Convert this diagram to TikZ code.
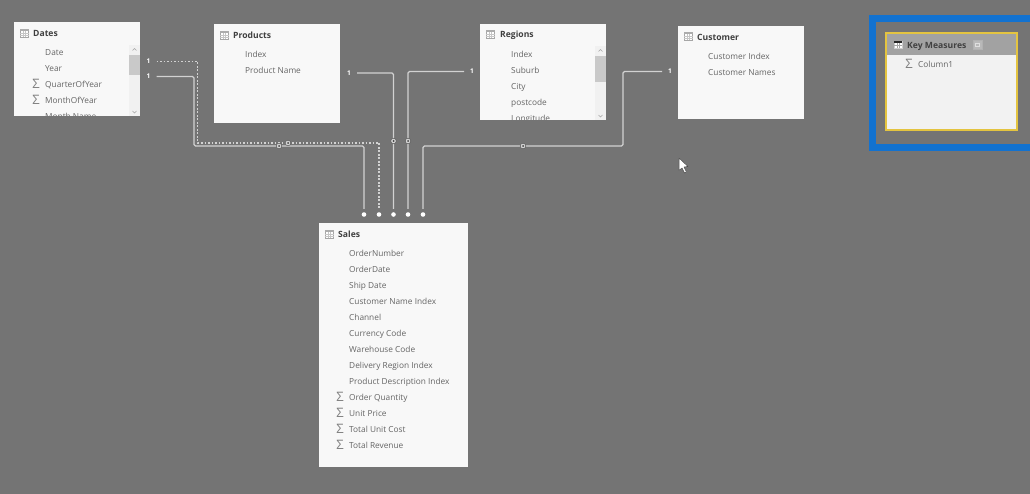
\documentclass[tikz,border=0pt]{standalone}
\usepackage{fontspec}
\setmainfont{Open Sans}
\usetikzlibrary{calc}
\definecolor{bgc}{HTML}{747474}
\definecolor{cardc}{HTML}{F8F8F8}
\definecolor{txtc}{HTML}{646464}
\definecolor{titlec}{HTML}{404040}
\definecolor{linec}{HTML}{D2D2D2}
\definecolor{blueb}{HTML}{1272D0}
\definecolor{yell}{HTML}{E4C440}
\definecolor{hdr}{HTML}{A2A2A2}
\definecolor{scr}{HTML}{F1F1F1}
\definecolor{thumb}{HTML}{C9C9C9}
\tikzset{
  card/.style={fill=cardc,draw=none},
  title/.style={anchor=west,inner sep=0pt,yshift=-1pt,text height=6.5pt,text depth=2pt,text=titlec,font=\fontsize{8.6}{10}\selectfont\bfseries},
  field/.style={anchor=west,inner sep=0pt,yshift=-1pt,text height=6.5pt,text depth=2pt,text=txtc,font=\fontsize{8.3}{10}\selectfont},
  sigma/.style={anchor=center,inner sep=0pt,text=gray,font=\fontsize{13}{13}\selectfont},
  one/.style={inner sep=0pt,text=white,font=\fontsize{6.5}{7}\selectfont\bfseries},
  conn/.style={draw=linec,line width=1.2pt,rounded corners=1.5pt},
  connd/.style={conn,line width=1.1pt,dash pattern=on 1.9pt off 1.6pt,rounded corners=0pt},
  many/.style={circle,fill=white,inner sep=0pt,minimum size=4.6pt},
  mid/.style={circle,fill=linec,draw=black!70,line width=0.4pt,inner sep=0pt,minimum size=5.6pt},
}
% small table glyph: upper-left corner at #1
\newcommand{\tblicon}[1]{%
  \begin{scope}[shift={#1}]
    \draw[draw=gray!70,fill=white,line width=0.5pt] (0,0) rectangle (8.5,8);
    \fill[gray!65] (0,0) rectangle (8.5,2);
    \draw[gray!45,line width=0.3pt] (2.8,2)--(2.8,8) (5.6,2)--(5.6,8) (0,4)--(8.5,4) (0,6)--(8.5,6);
  \end{scope}}
\newcommand{\scrollbar}[5]{% x0,x1,y0,y1,thumb height
  \fill[scr] (#1,#2) rectangle (#3,#4);
  \fill[thumb] (#1,#2+10) rectangle (#3,#2+10+#5);
  \draw[gray!70,line width=0.4pt] (#1+3.5,#2+5.5)--(#1+5.5,#2+3.5)--(#1+7.5,#2+5.5);
  \draw[gray!70,line width=0.4pt] (#1+3.5,#4-5)--(#1+5.5,#4-3)--(#1+7.5,#4-5);
}
\begin{document}
\begin{tikzpicture}[x=1pt,y=-1pt]
\useasboundingbox (0,0) rectangle (1030,494);
\fill[bgc] (0,0) rectangle (1030,494);

% Cards
\fill[card] (14,22) rectangle (140,116);
\fill[card] (214,24) rectangle (340,123);
\fill[card] (480,24) rectangle (606,120);
\fill[card] (678,26) rectangle (804,119);
\fill[card] (319,223) rectangle (468,467);

% Blue highlight and Key Measures
\draw[blueb,line width=7pt] (872.5,18.5) rectangle (1033,147.5);
\fill[cardc!95!gray] (886,33) rectangle (1017,130);
\fill[hdr] (886,33) rectangle (1017,55);
\draw[yell,line width=1.5pt] (886,33) rectangle (1017,130);

% Dates
\tblicon{(20,29)}
\node[title] (dt) at (33,33) {Dates};
\begin{scope}
  \clip (14,22) rectangle (140,116);
  \scrollbar{129}{45}{140}{116}{20}
  \node[field] (d1) at (45,52) {Date};
  \node[field] (d2) at (45,68) {Year};
  \node[field] (d3) at (45,84) {QuarterOfYear};
  \node[field] (d4) at (45,100) {MonthOfYear};
  \node[field] (d5) at (45,116) {Month Name};
  \node[sigma] (ds3) at (36,84) {Σ};
  \node[sigma] (ds4) at (36,100) {Σ};
\end{scope}

% Products
\tblicon{(220,31)}
\node[title] (pt) at (233,35) {Products};
\node[field] (p1) at (245,54) {Index};
\node[field] (p2) at (245,70) {Product Name};

% Regions
\tblicon{(486,30)}
\node[title] (rt) at (500,34.5) {Regions};
\begin{scope}
  \clip (480,24) rectangle (606,120);
  \scrollbar{595}{46}{606}{120}{26}
  \node[field] (r1) at (511,54) {Index};
  \node[field] (r2) at (511,70) {Suburb};
  \node[field] (r3) at (511,86) {City};
  \node[field] (r4) at (511,102) {postcode};
  \node[field] (r5) at (511,118) {Longitude};
\end{scope}

% Customer
\tblicon{(684,32)}
\node[title] (ct) at (697,37) {Customer};
\node[field] (c1) at (708,56) {Customer Index};
\node[field] (c2) at (708,72) {Customer Names};

% Key Measures contents
\begin{scope}[shift={(894,41)}]
  \draw[draw=gray!40,fill=white,line width=0.5pt] (0,0) rectangle (8,7);
  \fill[gray!30!black] (0,0) rectangle (8,2);
  \draw[gray!70,line width=0.3pt] (2.7,2)--(2.7,7) (5.3,2)--(5.3,7) (0,4.5)--(8,4.5);
\end{scope}
\node[title] (kt) at (907,45) {Key Measures};
\draw[draw=gray!60!white,fill=gray!55!white,line width=0.6pt] (973,40) rectangle (982,49);
\draw[gray!25,line width=0.4pt] (975.5,43) rectangle (979.5,46);
\node[sigma] (ks) at (909,64) {Σ};
\node[field] (k1) at (918,64) {Column1};

% Sales
\tblicon{(325,230)}
\node[title] (st) at (338,234) {Sales};
\node[field] (s1) at (349,253) {OrderNumber};
\node[field] (s2) at (349,269) {OrderDate};
\node[field] (s3) at (349,285) {Ship Date};
\node[field] (s4) at (349,301) {Customer Name Index};
\node[field] (s5) at (349,317) {Channel};
\node[field] (s6) at (349,333) {Currency Code};
\node[field] (s7) at (349,349) {Warehouse Code};
\node[field] (s8) at (349,365) {Delivery Region Index};
\node[field] (s9) at (349,381) {Product Description Index};
\node[field] (s10) at (349,397) {Order Quantity};
\node[field] (s11) at (349,413) {Unit Price};
\node[field] (s12) at (349,429) {Total Unit Cost};
\node[field] (s13) at (349,445) {Total Revenue};
\node[sigma] (ss10) at (340,397) {Σ};
\node[sigma] (ss11) at (340,413) {Σ};
\node[sigma] (ss12) at (340,429) {Σ};
\node[sigma] (ss13) at (340,445) {Σ};

% Cardinality labels
\node[one] (o1) at (148.5,61.5) {1};
\node[one] (o2) at (148.5,76.5) {1};
\node[one] (o3) at (349,73) {1};
\node[one] (o4) at (472,71.5) {1};
\node[one] (o5) at (670,71.5) {1};

% Many ends
\node[many] (m1) at (364,214.5) {};
\node[many] (m2) at (379,214.5) {};
\node[many] (m3) at (393.5,214.5) {};
\node[many] (m4) at (408,214.5) {};
\node[many] (m5) at (423,214.5) {};

% Connectors
\draw[connd] ($(o1.center)+(8,0)$) -| (197.5,143) -| ($(m2.north)+(0,-3)$);
\draw[conn] ($(o2.center)+(8,0)$) -| (194,146) -| ($(m1.north)+(0,-3)$);
\draw[conn] ($(o3.center)+(8,0)$) -| ($(m3.north)+(0,-3)$);
\draw[conn] ($(o4.center)+(-8,0)$) -| ($(m4.north)+(0,-3)$);
\draw[conn] ($(o5.center)+(-8,0)$) -| (623,146) -| ($(m5.north)+(0,-3)$);

% Midpoint markers
\node[mid] (x1) at (279,146) {};
\node[mid] (x2) at (288,143) {};
\node[mid] (x3) at (393.5,141) {};
\node[mid] (x4) at (408,141) {};
\node[mid] (x5) at (523,146) {};
\foreach \q in {x1,x2,x3,x4,x5} \fill[black!75] (\q) circle (1pt);

% Mouse pointer
\draw[fill=white,draw=black!70,line width=0.5pt,line join=round]
  (679,158) -- (679,170.5) -- (682,168) -- (684.5,173) -- (686.5,172) -- (684,167) -- (688,166.5) -- cycle;
\end{tikzpicture}
\end{document}
